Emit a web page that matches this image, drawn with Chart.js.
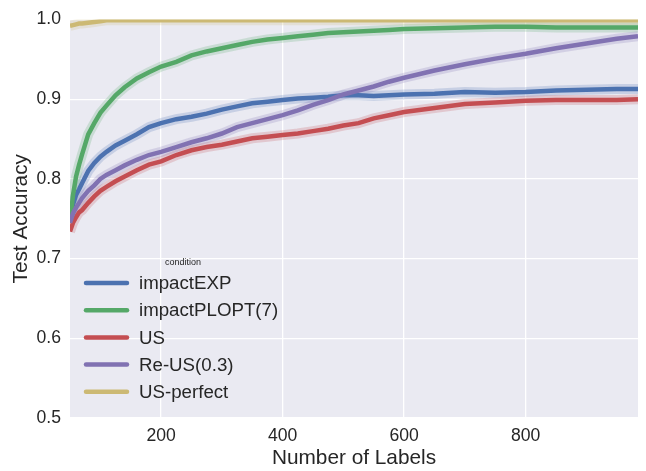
<!DOCTYPE html>
<html>
<head>
<meta charset="utf-8">
<script src="https://cdn.jsdelivr.net/npm/chart.js@4.4.1/dist/chart.umd.min.js"></script>
<style>
    html, body { margin: 0; padding: 0; background: #fff; }
    #wrap { width: 646px; height: 471px; }
</style>
</head>
<body>
<div id="wrap"><canvas id="chart" width="646" height="471"></canvas></div>
<script>
// x values (number of labels)
const numLabels = [50, 55, 60, 65, 70, 80, 90, 100, 110, 125, 140, 160, 180, 200, 225, 250, 275, 300, 325, 350,
    375, 400, 425, 450, 475, 500, 525, 550, 575, 600, 650, 700, 750, 800, 850, 900, 950, 985];

// test accuracy per condition
const impactEXP = [0.752, 0.768, 0.780, 0.787, 0.795, 0.810, 0.820, 0.828, 0.834, 0.842, 0.848, 0.856, 0.865, 0.870,
    0.875, 0.878, 0.882, 0.887, 0.891, 0.895, 0.897, 0.899, 0.901, 0.902, 0.903, 0.905, 0.905, 0.904, 0.905, 0.906,
    0.907, 0.909, 0.908, 0.909, 0.911, 0.912, 0.913, 0.913];
const impactPLOPT = [0.745, 0.780, 0.803, 0.818, 0.831, 0.856, 0.870, 0.883, 0.892, 0.905, 0.915, 0.926, 0.934, 0.941,
    0.947, 0.955, 0.960, 0.964, 0.968, 0.972, 0.975, 0.977, 0.979, 0.981, 0.983, 0.984, 0.985, 0.986, 0.987, 0.988,
    0.989, 0.990, 0.991, 0.991, 0.990, 0.990, 0.990, 0.990];
const US = [0.734, 0.745, 0.752, 0.758, 0.761, 0.770, 0.778, 0.785, 0.790, 0.797, 0.803, 0.811, 0.818, 0.822,
    0.830, 0.836, 0.840, 0.843, 0.847, 0.851, 0.853, 0.855, 0.857, 0.860, 0.863, 0.867, 0.870, 0.876, 0.880, 0.884,
    0.889, 0.894, 0.896, 0.898, 0.899, 0.899, 0.899, 0.900];
const reUS = [0.745, 0.757, 0.764, 0.770, 0.776, 0.785, 0.792, 0.800, 0.805, 0.811, 0.817, 0.824, 0.830, 0.834,
    0.840, 0.846, 0.851, 0.857, 0.865, 0.870, 0.875, 0.880, 0.886, 0.893, 0.899, 0.906, 0.911, 0.916, 0.922, 0.927,
    0.936, 0.944, 0.951, 0.957, 0.964, 0.970, 0.976, 0.979];
const USperfect = [0.992, 0.993, 0.994, 0.995, 0.995, 0.996, 0.997, 0.998, 0.999, 0.999, 0.999, 0.999, 0.999, 0.999,
    0.999, 0.999, 0.999, 0.999, 0.999, 0.999, 0.999, 0.999, 0.999, 0.999, 0.999, 0.999, 0.999, 0.999, 0.999, 0.999,
    0.999, 0.999, 0.999, 0.999, 0.999, 0.999, 0.999, 0.999];

const seriesNames = ['impactEXP', 'impactPLOPT(7)', 'US', 'Re-US(0.3)', 'US-perfect'];
const seriesValues = [impactEXP, impactPLOPT, US, reUS, USperfect];
const xTicks = [200, 400, 600, 800];
const legendTitle = 'condition';

// seaborn "deep" palette
const COLORS = ['#4C72B0', '#55A868', '#C44E52', '#8172B2', '#CCB974'];
const BANDS = ['rgba(76,114,176,0.22)', 'rgba(85,168,104,0.22)', 'rgba(196,78,82,0.22)',
    'rgba(129,114,178,0.22)', 'rgba(204,185,116,0.22)'];
const FONT = "'Liberation Sans', Arial, sans-serif";
const TEXT = '#262626';

function points(values) {
    return values.map((v, i) => ({ x: numLabels[i], y: v }));
}

const datasets = [];
seriesValues.forEach((values, i) => {
    // pale confidence band behind the line
    datasets.push({
        label: '',
        data: points(values),
        borderColor: BANDS[i],
        borderWidth: 10,
        pointRadius: 0,
        tension: 0,
        order: 20 - i
    });
});
seriesValues.forEach((values, i) => {
    datasets.push({
        label: seriesNames[i],
        data: points(values),
        borderColor: COLORS[i],
        borderWidth: 4.5,
        pointRadius: 0,
        tension: 0,
        order: 10 - i
    });
});

const plotBackground = {
    id: 'plotBackground',
    beforeDraw(chart) {
        const { ctx, chartArea: a } = chart;
        ctx.save();
        ctx.fillStyle = '#EAEAF2';
        ctx.fillRect(a.left, a.top, a.right - a.left, a.bottom - a.top);
        ctx.restore();
    }
};

// seaborn-style legend placed inside the axes, lower left
const innerLegend = {
    id: 'innerLegend',
    afterDraw(chart) {
        const ctx = chart.ctx;
        const x0 = 86, lineLen = 41, textX = 139, y0 = 283, step = 27.2;
        ctx.save();
        ctx.fillStyle = TEXT;
        ctx.font = '9px ' + FONT;
        ctx.textAlign = 'center';
        ctx.textBaseline = 'middle';
        ctx.fillText(legendTitle, 183, 263);
        ctx.font = '18.7px ' + FONT;
        ctx.textAlign = 'left';
        seriesNames.forEach((name, i) => {
            const y = y0 + i * step;
            ctx.strokeStyle = COLORS[i];
            ctx.lineWidth = 4.5;
            ctx.lineCap = 'round';
            ctx.beginPath();
            ctx.moveTo(x0, y);
            ctx.lineTo(x0 + lineLen, y);
            ctx.stroke();
            ctx.fillStyle = TEXT;
            ctx.fillText(name, textX, y + 1);
        });
        ctx.restore();
    }
};

new Chart(document.getElementById('chart').getContext('2d'), {
    type: 'line',
    data: { datasets: datasets },
    options: {
        responsive: false,
        animation: false,
        layout: { padding: { top: 15, right: 8, left: 0, bottom: 0 } },
        plugins: {
            legend: { display: false },
            tooltip: { enabled: false }
        },
        scales: {
            x: {
                type: 'linear',
                min: 50,
                max: 985,
                afterBuildTicks: (scale) => { scale.ticks = xTicks.map(v => ({ value: v })); },
                afterFit: (scale) => { scale.height = 53; },
                grid: { color: '#FFFFFF', lineWidth: 1.3, drawTicks: false },
                border: { display: false },
                ticks: { color: TEXT, font: { family: FONT, size: 17.6 }, padding: 8, maxRotation: 0 },
                title: { display: true, text: 'Number of Labels', color: TEXT,
                    font: { family: FONT, size: 20.8 }, padding: { top: 0, bottom: 0 } }
            },
            y: {
                min: 0.5,
                max: 1.0,
                afterFit: (scale) => { scale.width = 70; },
                grid: { color: '#FFFFFF', lineWidth: 1.3, drawTicks: false },
                border: { display: false },
                ticks: { stepSize: 0.1, color: TEXT, font: { family: FONT, size: 17.6 }, padding: 9,
                    callback: (v) => v.toFixed(1) },
                title: { display: true, text: 'Test Accuracy', color: TEXT,
                    font: { family: FONT, size: 20.8 }, padding: { top: 9, bottom: 0 } }
            }
        }
    },
    plugins: [plotBackground, innerLegend]
});
</script>
</body>
</html>
